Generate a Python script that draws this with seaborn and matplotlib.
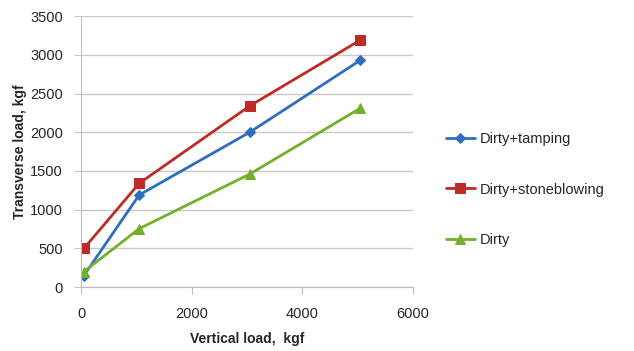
import pandas as pd
import matplotlib
matplotlib.use("Agg")
import matplotlib.pyplot as plt
import seaborn as sns

vertical_load = [50, 1050, 3050, 5050]
tamping = [150, 1190, 2000, 2930]
stoneblowing = [500, 1340, 2340, 3190]
dirty = [200, 755, 1460, 2310]
series_names = ["Dirty+tamping", "Dirty+stoneblowing", "Dirty"]

df = pd.DataFrame({
    "Vertical load": vertical_load * 3,
    "Transverse load": tamping + stoneblowing + dirty,
    "Series": [n for n in series_names for _ in vertical_load],
})

sns.set_style("white")
plt.rcParams["font.family"] = ["Liberation Sans", "DejaVu Sans"]

fig = plt.figure(figsize=(6.34, 3.51), dpi=100)
ax = fig.add_axes([0.128, 0.182, 0.523, 0.772])

palette = {"Dirty+tamping": "#2F6EBA", "Dirty+stoneblowing": "#BE2A26", "Dirty": "#74AF2C"}
markers = {"Dirty+tamping": "D", "Dirty+stoneblowing": "s", "Dirty": "^"}
sizes = {"Dirty+tamping": 5, "Dirty+stoneblowing": 7, "Dirty": 7}

for name in series_names:
    sub = df[df["Series"] == name]
    sns.lineplot(data=sub, x="Vertical load", y="Transverse load", ax=ax,
                 color=palette[name], marker=markers[name], markersize=sizes[name],
                 markeredgecolor=palette[name], linewidth=2, label=name)

ax.set_xlim(0, 6000)
ax.set_ylim(0, 3500)
ax.set_xticks([0, 2000, 4000, 6000])
ax.set_yticks(range(0, 3501, 500))
ax.yaxis.grid(True, color="#c8c8c8", linewidth=1)
ax.xaxis.grid(False)
for s in ["top", "right"]:
    ax.spines[s].set_visible(False)
for s in ["left", "bottom"]:
    ax.spines[s].set_color("#bdbdbd")
ax.tick_params(axis="x", bottom=True, length=5, color="#bdbdbd", labelsize=10.5, pad=9.5)
ax.tick_params(axis="y", left=True, length=5, color="#c8c8c8", labelsize=10.5, pad=8)

ax.set_xlabel("Vertical load,  kgf", fontsize=10, fontweight="bold", labelpad=7.5)
ax.set_ylabel("Transverse load, kgf", fontsize=10, fontweight="bold", labelpad=2)

ax.legend(loc="center left", bbox_to_anchor=(1.06, 0.36), frameon=False,
          fontsize=10.5, labelspacing=2.5, handlelength=2.0, handletextpad=0.3)

fig.savefig("out.png", dpi=100)
